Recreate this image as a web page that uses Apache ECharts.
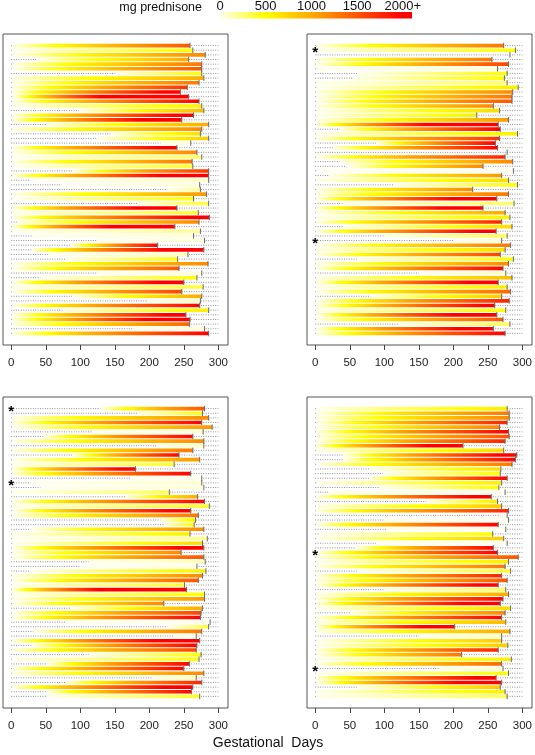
<!DOCTYPE html>
<html>
<head>
<meta charset="utf-8">
<script src="https://cdn.jsdelivr.net/npm/echarts@6/dist/echarts.min.js"></script>
<style>html,body{margin:0;padding:0;background:#fff;}#c{width:535px;height:755px;}</style>
</head>
<body>
<div id="c"></div>
<script>
// ---- tick labels ----
const dayTicks = [0, 50, 100, 150, 200, 250, 300];
const legendTicks = [0, 500, 1000, 1500, 2000];
const legendLabels = ['0', '500', '1000', '1500', '2000+'];
const legendTitle = 'mg prednisone';
const xTitle = 'Gestational  Days';

// ---- dose colour scale (mg -> colour) ----
const doseLevels = [0, 500, 1000, 1500, 2000];
const doseColors = [[255,255,238],[255,255,0],[255,170,0],[255,85,0],[255,0,0]];

// ---- panel 1 (top-left): start of exposure bar, delivery day, cumulative dose ----
const p1Start = [1,1,1,37,1,1,151,1,1,1,1,3,1,1,98,1,1,52,1,144,124,216,1,1,1,1,1,88,1,28,71,226,1,3,182,1,1,1,8,1,1,30,124,86,30,54,78,1,1,124,42,1,1,1,88,197,1,76,1,1,1,177,1];
const p1End   = [259,263,281,257,276,276,276,279,272,255,245,257,272,276,279,264,247,286,276,274,286,260,240,269,276,262,263,286,286,286,273,274,283,264,286,240,271,287,272,237,274,264,280,212,279,256,241,285,243,276,269,250,278,247,276,274,273,286,253,259,258,280,286];
const p1Dose  = [1500,500,1200,1000,1300,1500,500,1000,1300,1700,2200,3500,2000,600,900,2200,2500,1000,1200,700,800,60,2200,1200,300,1300,400,1700,2500,80,50,200,1100,500,400,2500,400,2200,1200,3000,200,50,50,2000,2500,100,500,1200,1500,50,500,2300,400,1600,1000,100,2000,600,2200,2500,1400,50,2000];
const p1Stars = [];

// ---- panel 2 (top-right) ----
const p2Start = [1,1,282,1,1,3,62,54,1,3,1,1,1,1,3,1,1,1,35,1,1,88,25,278,1,35,45,3,20,1,113,1,1,1,40,1,1,1,1,40,1,100,200,1,1,1,60,1,1,150,1,1,1,1,80,1,1,1,1,1,120,1,1];
const p2End   = [273,290,282,256,280,264,278,274,278,294,286,285,285,258,267,234,280,265,268,293,267,261,264,278,275,286,243,287,270,280,293,228,280,263,288,243,275,282,270,285,262,278,270,283,275,268,287,280,272,276,285,265,278,283,270,281,260,276,263,272,282,258,275];
const p2Dose  = [1300,500,0,1300,1600,50,500,500,300,600,1200,1300,1500,1200,700,600,1100,3000,2000,600,1700,2000,2000,0,1800,1200,1200,0,1100,700,500,1200,1300,2500,300,2500,1000,600,1800,700,2200,300,50,1300,700,1600,500,1200,2000,100,900,2300,600,1400,800,1800,2100,500,2500,1500,300,2400,2000];
const p2Stars = [1, 42];

// ---- panel 3 (bottom-left) ----
const p3Start = [129,182,1,1,1,117,47,1,211,1,88,1,1,1,1,173,28,42,1,165,1,1,3,1,216,221,28,1,1,3,1,1,1,112,100,28,1,1,1,1,1,1,1,86,1,1,78,226,32,235,1,30,1,112,1,52,1,1,204,78,1,52,52];
const p3End   = [280,277,286,276,291,278,263,279,279,263,243,273,236,180,260,276,276,279,229,270,280,287,260,271,267,265,279,259,284,277,279,246,279,281,269,282,277,271,251,254,280,280,221,277,275,274,288,286,276,268,273,269,268,275,272,258,250,279,268,276,263,261,273];
const p3Dose  = [1500,500,1200,2000,1100,50,2000,1200,100,1300,2000,1100,400,2200,2000,0,80,50,300,1000,2000,400,2200,1300,600,500,1200,600,200,700,2200,1200,1500,100,30,600,1200,1500,400,3500,500,1100,1200,1000,1600,2000,0,400,1300,0,2500,2000,1600,500,500,2000,2000,1200,100,1800,2300,2000,400];
const p3Stars = [0, 16];

// ---- panel 4 (bottom-right) ----
const p4Start = [1,1,1,3,1,1,1,1,1,1,40,40,3,79,98,79,3,93,20,1,161,1,1,268,100,1,103,6,1,88,59,1,1,1,1,60,1,1,1,100,1,1,1,1,50,1,1,1,1,150,1,1,1,1,1,1,180,1,1,1,60,1,1];
const p4End   = [278,281,281,278,267,280,281,275,214,273,292,290,285,269,268,278,270,266,275,255,264,270,280,278,280,265,276,257,273,278,258,264,294,280,275,283,270,278,265,276,280,272,268,283,275,270,276,202,282,270,270,279,265,212,284,270,272,280,262,270,268,275,278];
const p4Dose  = [600,1300,1200,1800,1200,2000,1500,1800,2500,700,2200,2000,1300,700,500,2000,600,500,0,2200,600,800,1800,0,0,2000,0,500,800,0,2000,2000,1500,600,1300,400,1800,1500,2200,300,1000,2000,2400,700,1200,2000,900,2500,1000,100,800,800,1800,1300,600,1400,50,500,2200,2500,800,600,300];
const p4Stars = [31, 56];

const FONT = 'Liberation Sans, Arial, Helvetica, sans-serif';
const DOSE_CURVE = 0.8; // cumulative dose grows a little faster early in exposure

function rgb(c) { return 'rgb(' + c.map(v => Math.round(v)).join(',') + ')'; }
function doseColor(L) {
  if (L <= doseLevels[0]) return rgb(doseColors[0]);
  for (let i = 1; i < doseLevels.length; i++) {
    if (L <= doseLevels[i]) {
      const t = (L - doseLevels[i-1]) / (doseLevels[i] - doseLevels[i-1]);
      const a = doseColors[i-1], b = doseColors[i];
      return rgb([0,1,2].map(j => a[j] + (b[j] - a[j]) * t));
    }
  }
  return rgb(doseColors[doseColors.length - 1]);
}

function barGradient(d) {
  if (d <= 0) return doseColor(0);
  const stops = [];
  doseLevels.forEach(L => { if (L < d) stops.push({ offset: Math.pow(L / d, 1 / DOSE_CURVE), color: doseColor(L) }); });
  stops.push({ offset: 1, color: doseColor(d) });
  return { type: 'linear', x: 0, y: 0, x2: 1, y2: 0, colorStops: stops };
}

function renderRow(params, api) {
  const k = api.value(0), s = api.value(1), e = api.value(2), d = api.value(3), star = api.value(4);
  const p0 = api.coord([0, k]);
  const p300 = api.coord([300, k]);
  const ps = api.coord([s, k]);
  const pe = api.coord([e, k]);
  const y = p0[1];
  const children = [{
    type: 'line', silent: true,
    shape: { x1: p0[0], y1: y, x2: p300[0], y2: y },
    style: { stroke: '#7a7a7a', lineWidth: 0.9, lineDash: [0.9, 1.5] }
  }];
  if (pe[0] - ps[0] > 0.5) {
    children.push({
      type: 'rect', silent: true,
      shape: { x: ps[0], y: y - 1.8, width: pe[0] - ps[0], height: 3.6 },
      style: { fill: barGradient(d) }
    });
  }
  children.push({
    type: 'line', silent: true,
    shape: { x1: pe[0], y1: y - 2.8, x2: pe[0], y2: y + 2.8 },
    style: { stroke: '#6a6a6a', lineWidth: 1 }
  });
  if (star) {
    children.push({
      type: 'text', silent: true,
      style: { text: '*', x: p0[0], y: y + 3, font: 'bold 15px ' + FONT, fill: '#000', align: 'center', verticalAlign: 'middle' }
    });
  }
  return { type: 'group', children: children };
}

const panels = [
  { start: p1Start, end: p1End, dose: p1Dose, stars: p1Stars, left: 3, top: 34 },
  { start: p2Start, end: p2End, dose: p2Dose, stars: p2Stars, left: 307, top: 34 },
  { start: p3Start, end: p3End, dose: p3Dose, stars: p3Stars, left: 3, top: 397 },
  { start: p4Start, end: p4End, dose: p4Dose, stars: p4Stars, left: 307, top: 397 }
];

const grids = [], xAxes = [], yAxes = [], series = [];
panels.forEach((p, i) => {
  grids.push({ left: p.left, top: p.top, width: 225, height: 311, show: true, borderColor: '#555', borderWidth: 1, backgroundColor: 'transparent' });
  xAxes.push({
    gridIndex: i, type: 'value', min: -12, max: 314, position: 'bottom',
    axisLine: { show: false, onZero: false }, splitLine: { show: false },
    axisTick: { show: true, customValues: dayTicks, length: 5, lineStyle: { color: '#444' } },
    axisLabel: { customValues: dayTicks, fontSize: 11.5, color: '#222', margin: 12, fontFamily: FONT }
  });
  yAxes.push({ gridIndex: i, type: 'value', min: -2.5, max: 64.5, inverse: true, show: false, axisLine: { onZero: false } });
  const data = p.start.map((s, k) => [k, s, p.end[k], p.dose[k], p.stars.indexOf(k) >= 0 ? 1 : 0]);
  series.push({ type: 'custom', xAxisIndex: i, yAxisIndex: i, renderItem: renderRow, data: data, silent: true, animation: false, clip: false });
});

// legend colour bar as its own small axis
grids.push({ left: 220, top: 11.5, width: 192, height: 7 });
xAxes.push({
  gridIndex: 4, type: 'value', min: 0, max: 2100, position: 'top',
  axisLine: { show: false, onZero: false }, splitLine: { show: false }, axisTick: { show: false },
  axisLabel: { customValues: legendTicks, fontSize: 13, color: '#111', margin: -1, fontFamily: FONT,
    formatter: v => legendLabels[legendTicks.indexOf(v)] }
});
yAxes.push({ gridIndex: 4, type: 'value', min: 0, max: 1, show: false });
series.push({
  type: 'custom', xAxisIndex: 4, yAxisIndex: 4, silent: true, animation: false, z: 1,
  data: [[0, 2100]],
  renderItem: function (params, api) {
    const a = api.coord([api.value(0), 1]);
    const b = api.coord([api.value(1), 0]);
    const lo = api.value(0), hi = api.value(1);
    const stops = doseLevels.map(L => ({ offset: (L - lo) / (hi - lo), color: doseColor(L) }));
    stops.push({ offset: 1, color: doseColor(hi) });
    return { type: 'rect', shape: { x: a[0], y: a[1], width: b[0] - a[0], height: b[1] - a[1] },
      style: { fill: { type: 'linear', x: 0, y: 0, x2: 1, y2: 0, colorStops: stops } } };
  }
});

const chart = echarts.init(document.getElementById('c'), null, { renderer: 'canvas' });
chart.setOption({
  animation: false,
  backgroundColor: '#fff',
  grid: grids, xAxis: xAxes, yAxis: yAxes, series: series,
  graphic: [
    { type: 'text', x: 202, y: 8, style: { text: legendTitle, font: '12.5px ' + FONT, fill: '#111', align: 'right', verticalAlign: 'middle' } },
    { type: 'text', x: 268, y: 743, style: { text: xTitle, font: '14px ' + FONT, fill: '#111', align: 'center', verticalAlign: 'middle' } }
  ]
});
</script>
</body>
</html>
